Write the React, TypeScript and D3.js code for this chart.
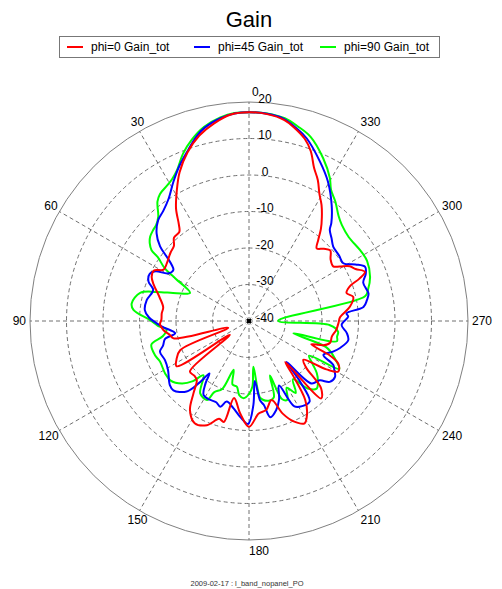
import React from 'react';
import * as d3 from 'd3';

const W = 502;
const H = 589;
const CX = 249;
const CY = 321;
const R = 219;

const chartTitle = 'Gain';
const footerText = '2009-02-17 : l_band_nopanel_PO';
const radialTicks = [-40, -30, -20, -10, 0, 10, 20];
const angleTicks = [0, 30, 60, 90, 120, 150, 180, 210, 240, 270, 300, 330];
const seriesNames = ['phi=0 Gain_tot', 'phi=45 Gain_tot', 'phi=90 Gain_tot'];
const seriesColors = ['#ff0000', '#0000ff', '#00ff00'];

const phi0Angles = [0, 5, 10, 15, 20, 25, 29, 33, 36, 38, 42, 45, 49, 55, 59, 62, 65.5, 69, 75, 81, 85, 89, 92, 96, 100, 103, 108, 113, 118, 122, 126, 130.5, 135, 138.5, 142.5, 146.5, 152, 158, 163, 166, 169, 174.5, 180, 186, 191, 196, 200, 204, 208.5, 212, 215.5, 219, 221.5, 223, 227, 231, 234.5, 238, 240.5, 244.5, 247, 249.5, 252, 255, 259.5, 264, 268.5, 272.5, 278, 283, 286, 289, 291, 293, 296, 298.5, 301, 303, 307, 311, 314, 317, 319.5, 322, 325, 328, 331, 334, 337, 340, 343, 347, 350, 355];
const phi0Gain = [17.2, 16.8, 15.0, 12.6, 9.2, 5.0, 0.8, -3.3, -7.3, -9.0, -9.3, -10.9, -11.5, -12.5, -12.7, -10.5, -10.7, -12.0, -14.6, -16.2, -16.0, -16.0, -15.6, -16.4, -18.0, -18.8, -34, -19.5, -17.5, -16.6, -33.5, -18.7, -18.8, -18.4, -15.0, -10.7, -8.3, -9.2, -12, -11.5, -18.5, -14.6, -11, -14.5, -15.2, -17.5, -13, -9.9, -8.1, -10, -13.5, -21, -25, -11, -13, -20, -21.7, -15, -11.9, -12.9, -16, -21.8, -18.5, -17, -16.9, -16, -15.5, -15.0, -12.1, -10.7, -12.2, -10.8, -7.6, -5.5, -7.5, -8.6, -11, -12.5, -12, -10.5, -11.5, -12.8, -10.8, -8, -5.2, -2.5, -0.2, 3, 5.6, 9.5, 12.2, 14.5, 15.9, 16.9];

const phi45Angles = [0, 4, 8, 13, 16, 19.5, 24, 28.5, 33.5, 38, 42, 46.5, 50, 52, 54, 56, 59.5, 62, 64.5, 68.5, 72, 78.5, 84, 88, 93.5, 99.5, 102, 106, 109, 115, 121, 129, 132.5, 138.5, 141, 143, 145, 148.5, 153.5, 158, 161.5, 164.5, 170, 175, 179.5, 183, 185.5, 188, 190, 192.5, 197, 201, 205, 208, 212, 217, 220, 222.5, 225, 230, 233, 237, 240, 242.5, 245.5, 250, 253.5, 259, 263, 267.5, 272.5, 274.5, 277, 280, 283, 288.5, 292, 295, 298, 301.5, 306, 311.5, 315, 318.5, 320, 324.5, 330.5, 336, 342.5, 346, 350.5, 355];
const phi45Gain = [17.2, 17.0, 16.1, 14.3, 12.5, 9.8, 6.7, 3.4, 0.0, -1.8, -2.8, -5.1, -8.2, -11.4, -13.8, -15.0, -14.3, -11, -9.9, -10.4, -12.4, -11.4, -11.3, -12.6, -16.0, -19.5, -16.5, -15.5, -14.2, -14.6, -14.1, -12.1, -11.9, -14.2, -18, -22, -19.3, -16.2, -15.9, -16, -15.2, -17.1, -15.7, -13.5, -11.8, -17, -23.5, -18, -16.7, -13, -14.5, -17, -20.5, -13.5, -12.5, -12.4, -18, -24.8, -15.8, -14.7, -12.3, -11.9, -13, -14, -17.6, -15.5, -14, -12.3, -13, -14.6, -12.8, -13.2, -8.4, -7.2, -6.4, -7.0, -5.5, -4.9, -7, -9.7, -9.5, -9.2, -8, -6.6, -4.9, -1.0, 3.9, 7.8, 12.5, 14.3, 16.3, 17.0];

const phi90Angles = [0, 4, 8, 13, 17.5, 21.5, 25.5, 28.5, 31, 35, 37.5, 41, 44, 46.5, 49.5, 52, 54, 55, 58, 60, 64.5, 69, 72.5, 75.5, 81.5, 84.5, 89.5, 93, 96, 100, 103.5, 110, 114.5, 122, 127, 133, 137, 140, 146, 152, 154, 158.5, 162.5, 165.5, 169.5, 172.5, 176, 180, 183, 185.5, 188, 190, 194, 198, 201, 203, 206, 209.5, 213, 217, 221, 225, 229, 232.5, 236, 240, 242, 246, 251, 254.5, 257, 260, 263, 267, 270.5, 282, 285, 290, 297, 302.5, 310, 316, 319.5, 324, 328, 330.5, 335.5, 341.5, 346, 350, 355];
const phi90Gain = [17.2, 17.1, 16.3, 14.6, 12.1, 9.3, 5.8, 4.2, 3.4, 2.5, 1.2, -2.1, -3.4, -3.8, -4.4, -5.5, -7.0, -9.5, -12.8, -16.8, -22.1, -18.8, -13.5, -9.2, -7.5, -8.2, -12.9, -15, -17.3, -16, -12.5, -12.6, -13.2, -12.9, -13, -14.9, -17.5, -20.6, -16.1, -15.5, -18.3, -20, -26, -22, -21.7, -19.5, -18.8, -20, -22, -27.4, -19, -18.1, -17.5, -18, -24, -16.7, -16, -19, -16.5, -20, -15.5, -13.8, -15, -16.6, -19, -21, -12, -14.1, -17.4, -27.4, -15.3, -15.5, -15.4, -17.8, -32, -7.5, -6.2, -4.7, -3.7, -3.9, -4.3, -3.4, -2.2, 0.3, 2.4, 5.0, 9.0, 13.2, 15.0, 16.4, 17.1];

const seriesAngles = [phi0Angles, phi45Angles, phi90Angles];
const seriesGains = [phi0Gain, phi45Gain, phi90Gain];

const FONT = "'Liberation Sans', Arial, Helvetica, sans-serif";

export default function App() {
  const r = d3.scaleLinear().domain([-40, 20]).range([0, R]);
  const toRad = (deg: number) => (deg * Math.PI) / 180;
  const line = d3
    .lineRadial<[number, number]>()
    .angle((d) => -toRad(d[0]))
    .radius((d) => r(d[1]))
    .curve(d3.curveCatmullRomClosed.alpha(0.5));

  const gridColor = '#707070';
  const fs = 12;
  const drawOrder = [2, 1, 0];

  const legendX = [67, 194, 320];

  return (
    <svg
      width={W}
      height={H}
      style={{ position: 'absolute', left: 0, top: 0, background: '#fff' }}
      fontFamily={FONT}
    >
      <rect x={0} y={0} width={W} height={H} fill="#fff" />
      <text x={249} y={27} textAnchor="middle" fontSize={22} fill="#000">
        {chartTitle}
      </text>
      <rect x={59.5} y={36.5} width={380} height={21} fill="#fff" stroke="#777" strokeWidth={1} />
      {seriesNames.map((name, i) => (
        <g key={name}>
          <line x1={legendX[i]} x2={legendX[i] + 16} y1={47} y2={47} stroke={seriesColors[i]} strokeWidth={2} />
          <text x={legendX[i] + 24} y={51} fontSize={12} fill="#000">
            {name}
          </text>
        </g>
      ))}

      <g transform={`translate(${CX},${CY})`}>
        {radialTicks.slice(1, -1).map((v) => (
          <circle key={v} r={r(v)} fill="none" stroke={gridColor} strokeWidth={1} strokeDasharray="4,3" />
        ))}
        <circle r={r(20)} fill="none" stroke="#808080" strokeWidth={1} />
        {angleTicks.map((a) => (
          <line
            key={a}
            x1={0}
            y1={0}
            x2={-R * Math.sin(toRad(a))}
            y2={-R * Math.cos(toRad(a))}
            stroke={gridColor}
            strokeWidth={1}
            strokeDasharray="4,3"
          />
        ))}
        {drawOrder.map((i) => (
          <path
            key={i}
            d={line(seriesAngles[i].map((a, k) => [a, seriesGains[i][k]] as [number, number])) || ''}
            fill="none"
            stroke={seriesColors[i]}
            strokeWidth={2}
            strokeLinejoin="round"
          />
        ))}
        <rect x={-2} y={-2} width={4} height={4} fill="#000" />
        {radialTicks.map((v) => (
          <text key={v} x={16} y={-r(v) + 0.5} textAnchor="middle" fontSize={fs} fill="#000">
            {v}
          </text>
        ))}
      </g>

      {angleTicks.map((a) => {
        const s = Math.sin(toRad(a));
        const c = Math.cos(toRad(a));
        const px = CX - (R + 4) * s;
        const py = CY - (R + 4) * c;
        const label = String(a);
        const w = label.length * 0.556 * fs;
        const x = px - w * Math.max(0, s) + (Math.abs(s) < 0.01 && c > 0 ? 3 : 0);
        const top = py - 13.4 * ((1 + c) / 2);
        return (
          <text key={a} x={x} y={top + 10.9} fontSize={fs} fill="#000">
            {label}
          </text>
        );
      })}

      <text x={247} y={585.5} textAnchor="middle" fontSize={7.5} fill="#333">
        {footerText}
      </text>
    </svg>
  );
}
